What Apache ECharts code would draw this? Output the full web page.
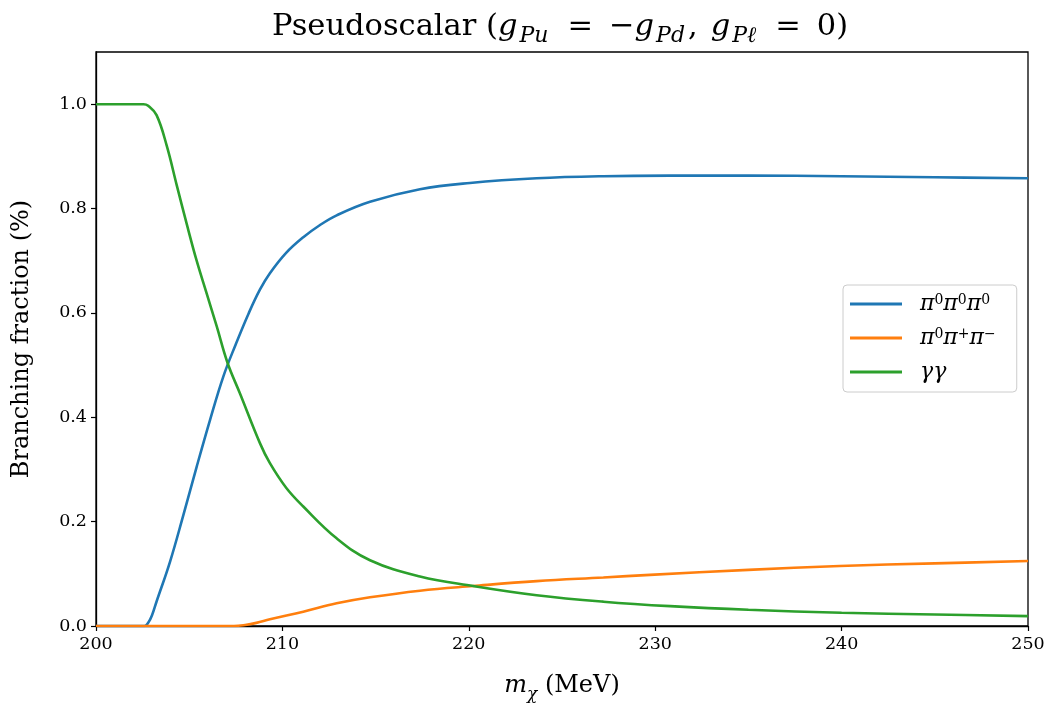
<!DOCTYPE html>
<html>
<head>
<meta charset="utf-8">
<script src="https://cdn.jsdelivr.net/npm/echarts@6/dist/echarts.min.js"></script>
<style>html,body{margin:0;padding:0;background:#fff;}#c{width:1054px;height:709px;}</style>
</head>
<body>
<div id="c"></div>
<script>
// Data: [m_chi (MeV), branching fraction]
const seriesNames = ['π0π0π0', 'π0π+π−', 'γγ'];
const pi000 = [[200,0],[202.6,0],[202.8,0.006],[203.0,0.02],[203.25,0.047],[203.97,0.123],[204.69,0.213],[205.4,0.305],[206.12,0.395],[206.83,0.478],[207.5,0.54],[208.2,0.60],[208.8,0.645],[209.33,0.676],[210.2,0.715],[211.12,0.745],[212,0.768],[212.91,0.787],[214.7,0.813],[217.38,0.837],[220.06,0.849],[223.64,0.858],[227.22,0.862],[230.8,0.863],[235,0.863],[240,0.862],[245,0.860],[250,0.858]];
const pi0pm = [[200,0],[207.4,0],[208,0.002],[208.6,0.006],[209.33,0.0128],[211.12,0.0275],[212.91,0.0434],[214.7,0.055],[217.38,0.0677],[220.24,0.0766],[223.64,0.086],[227.22,0.093],[229.72,0.098],[235,0.1075],[239.9,0.115],[245,0.120],[250,0.1245]];
const gamgam = [[200,1],[202.55,1],[202.8,0.997],[203.25,0.979],[203.79,0.921],[204.33,0.845],[204.87,0.77],[205.4,0.70],[205.94,0.637],[206.47,0.575],[207.05,0.505],[207.73,0.445],[208.8,0.35],[209.33,0.312],[210.2,0.265],[211.12,0.229],[212.91,0.168],[214.7,0.126],[217.38,0.095],[220.24,0.0766],[223.64,0.059],[227.22,0.0466],[230.8,0.038],[235,0.031],[240,0.0255],[245,0.022],[250,0.019]];
const xTicks = [200, 210, 220, 230, 240, 250];
const yTicks = [0, 0.2, 0.4, 0.6, 0.8, 1.0];
const legendRich = {
  'π0π0π0': '{p|π}{u|0}{p|π}{u|0}{p|π}{u|0}',
  'π0π+π−': '{p|π}{u|0}{p|π}{u|+}{p|π}{u|−}',
  'γγ': '{p|γγ}'
};

const serif = "'DejaVu Serif', 'Liberation Serif', serif";
const colors = ['#1f77b4', '#ff7f0e', '#2ca02c'];
const chart = echarts.init(document.getElementById('c'), null, {renderer: 'canvas'});
const mk = (name, data, color, z) => ({
  name, type: 'line', data, showSymbol: false, symbol: 'none', smooth: 0.4,
  lineStyle: {color, width: 2.6}, itemStyle: {color}, z, animation: false
});
const tok = (size, italic, lh, va, pad) => Object.assign({fontFamily: serif, fontSize: size, fontStyle: italic ? 'italic' : 'normal', fontWeight: 'normal', color: '#000', lineHeight: lh, verticalAlign: va}, pad ? {padding: pad} : {});
chart.setOption({
  animation: false,
  backgroundColor: '#fff',
  title: {
    left: 267, top: 2,
    text: '{n|Pseudoscalar (}{i|g}{s|Pu}{o|=}{n|−}{i|g}{s|Pd}{c|,}{i|g}{s|Pℓ}{o|=}{n|0)}',
    textStyle: {
      fontWeight: 'normal',
      rich: {
        n: tok(30.5, false, 40, 'middle'),
        c: tok(30.5, false, 40, 'middle', [0, 13, 0, 0]),
        o: tok(30.5, false, 40, 'middle', [0, 16, 0, 16]),
        i: tok(30.5, true, 40, 'middle'),
        s: tok(22, true, 20, 'bottom', [0, 3, 0, 2])
      }
    }
  },
  grid: {left: 96, right: 26, top: 52, bottom: 83, show: true, borderColor: '#000', borderWidth: 1.3, containLabel: false, outerBoundsMode: 'none'},
  legend: {
    orient: 'vertical', left: 843, top: 285,
    data: seriesNames.map(n => ({name: n, icon: 'rect'})),
    formatter: n => legendRich[n],
    itemWidth: 52, itemHeight: 3, itemGap: 12,
    backgroundColor: '#fff', borderColor: '#cccccc', borderWidth: 1, borderRadius: 4,
    padding: [8, 21, 9, 7],
    textStyle: {
      fontFamily: serif, fontSize: 19, color: '#000', padding: [0, 0, 0, 13],
      rich: {
        p: tok(22, true, 22, 'bottom'),
        u: tok(14, false, 22, 'top')
      }
    }
  },
  xAxis: {
    type: 'value', min: 200, max: 250, interval: 10,
    name: '{i|m}{s|χ}{n| (MeV)}', nameLocation: 'middle', nameGap: 43,
    nameTextStyle: {rich: {
      n: tok(24, false, 34, 'middle'),
      i: tok(24, true, 34, 'middle'),
      s: tok(17, true, 17, 'bottom')
    }},
    axisLine: {show: true, onZero: false, lineStyle: {color: '#000', width: 1.3}},
    axisTick: {show: true, inside: false, length: 5, lineStyle: {color: '#000', width: 1.2}, customValues: xTicks},
    axisLabel: {fontFamily: serif, fontSize: 17.5, color: '#000', margin: 9, customValues: xTicks, formatter: v => String(v)},
    splitLine: {show: false}
  },
  yAxis: {
    type: 'value', min: 0, max: 1.1, interval: 0.1,
    name: 'Branching fraction (%)', nameLocation: 'middle', nameGap: 62, nameRotate: 90,
    nameTextStyle: {fontFamily: serif, fontSize: 24, color: '#000'},
    axisLine: {show: true, onZero: false, lineStyle: {color: '#000', width: 1.3}},
    axisTick: {show: true, inside: false, length: 5, lineStyle: {color: '#000', width: 1.2}, customValues: yTicks},
    axisLabel: {fontFamily: serif, fontSize: 17.5, color: '#000', margin: 9, customValues: yTicks, formatter: v => v.toFixed(1)},
    splitLine: {show: false}
  },
  series: [
    mk(seriesNames[0], pi000, colors[0], 2),
    mk(seriesNames[1], pi0pm, colors[1], 3),
    mk(seriesNames[2], gamgam, colors[2], 4)
  ]
});
</script>
</body>
</html>
